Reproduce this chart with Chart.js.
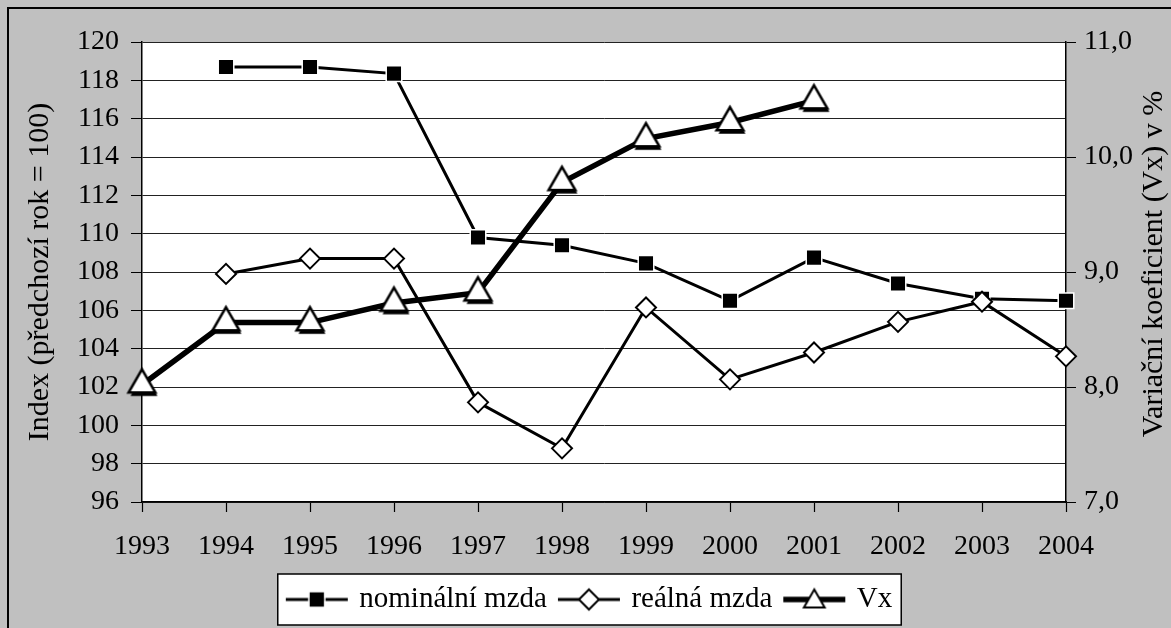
<!DOCTYPE html>
<html>
<head>
<meta charset="utf-8">
<script src="https://cdn.jsdelivr.net/npm/chart.js@4.4.1/dist/chart.umd.min.js"></script>
<style>
  html, body { margin: 0; padding: 0; background: #c0c0c0; overflow: hidden; }
  #frame {
    position: absolute; left: 7px; top: 7px; width: 1300px; height: 800px;
    border-left: 2px solid #000; border-top: 2px solid #000;
  }
  #wrap { position: absolute; left: 0; top: 0; width: 1171px; height: 628px; }
</style>
</head>
<body>
<div id="frame"></div>
<div id="wrap"><canvas id="chart" width="1171" height="628"></canvas></div>
<script>
// ---- data ----
const years = ['1993', '1994', '1995', '1996', '1997', '1998', '1999', '2000', '2001', '2002', '2003', '2004'];
const nominalWage = [null, 118.7, 118.7, 118.35, 109.8, 109.4, 108.45, 106.5, 108.75, 107.4, 106.6, 106.5];
const realWage = [null, 107.9, 108.7, 108.7, 101.2, 98.8, 106.15, 102.4, 103.8, 105.4, 106.45, 103.6];
const vxCoef = [8.02, 8.56, 8.56, 8.73, 8.82, 9.78, 10.16, 10.30, 10.49, null, null, null];

const seriesNames = ['nominální mzda', 'reálná mzda', 'Vx'];
const leftTitle = 'Index (předchozí rok = 100)';
const rightTitle = 'Variační koeficient (Vx) v %';

const FONT = '"Liberation Serif", "Times New Roman", serif';

/* ---- marker helpers ---- */
function trianglePath(ctx, cx, cy, r) {
  const h = Math.sin(Math.PI / 3) * r;
  ctx.beginPath();
  ctx.moveTo(cx, cy - r);
  ctx.lineTo(cx + h, cy + r / 2);
  ctx.lineTo(cx - h, cy + r / 2);
  ctx.closePath();
}

// triangle with the small black drop shadow seen in the picture
function makeTriangle(r, lw) {
  const c = document.createElement('canvas');
  const size = Math.ceil(r * 2 + 10);
  c.width = size; c.height = size;
  const ctx = c.getContext('2d');
  const cx = size / 2, cy = size / 2;
  trianglePath(ctx, cx + 2, cy + 3.5, r);
  ctx.fillStyle = '#000';
  ctx.fill();
  trianglePath(ctx, cx, cy, r);
  ctx.fillStyle = '#fff';
  ctx.fill();
  ctx.lineWidth = lw;
  ctx.strokeStyle = '#000';
  ctx.stroke();
  return c;
}

// legend glyph: short line with the marker in the middle
function makeLegendGlyph(kind) {
  const c = document.createElement('canvas');
  c.width = 64; c.height = 28;
  const ctx = c.getContext('2d');
  const cy = 14, cx = 32;
  ctx.strokeStyle = '#000';
  ctx.lineWidth = kind === 'vx' ? 5.5 : 3;
  ctx.beginPath();
  ctx.moveTo(1, cy); ctx.lineTo(63, cy);
  ctx.stroke();
  if (kind === 'nominal') {
    ctx.fillStyle = '#000';
    ctx.fillRect(cx - 7.5, cy - 7.5, 15, 15);
    ctx.strokeStyle = '#fff'; ctx.lineWidth = 1.5;
    ctx.strokeRect(cx - 8, cy - 8, 16, 16);
  } else if (kind === 'real') {
    ctx.beginPath();
    ctx.moveTo(cx - 10, cy); ctx.lineTo(cx, cy - 10); ctx.lineTo(cx + 10, cy); ctx.lineTo(cx, cy + 10);
    ctx.closePath();
    ctx.fillStyle = '#fff'; ctx.fill();
    ctx.strokeStyle = '#000'; ctx.lineWidth = 2; ctx.stroke();
  } else {
    trianglePath(ctx, cx, cy + 2, 12);
    ctx.fillStyle = '#fff'; ctx.fill();
    ctx.strokeStyle = '#000'; ctx.lineWidth = 2; ctx.stroke();
  }
  return c;
}

const triangleMarker = makeTriangle(15.5, 2.5);
const legendGlyphs = [makeLegendGlyph('nominal'), makeLegendGlyph('real'), makeLegendGlyph('vx')];

/* ---- plugins ---- */
const plotBackground = {
  id: 'plotBackground',
  beforeDraw(chart) {
    const {ctx, chartArea: a} = chart;
    ctx.save();
    ctx.fillStyle = '#fff';
    ctx.fillRect(a.left, a.top, a.right - a.left, a.bottom - a.top);
    // legend frame
    const boxes = chart.legend.legendHitBoxes;
    if (boxes && boxes.length) {
      const first = boxes[0], last = boxes[boxes.length - 1];
      const x0 = first.left - 11, x1 = last.left + last.width + 9;
      const y0 = first.top - 11, y1 = first.top + first.height + 11;
      ctx.fillRect(x0, y0, x1 - x0, y1 - y0);
      ctx.strokeStyle = '#000';
      ctx.lineWidth = 1.5;
      ctx.strokeRect(x0, y0, x1 - x0, y1 - y0);
    }
    ctx.restore();
  }
};

// right axis title reads bottom-to-top, like the left one
const rightAxisTitle = {
  id: 'rightAxisTitle',
  afterDraw(chart) {
    const {ctx} = chart;
    ctx.save();
    ctx.translate(1154, 264);
    ctx.rotate(-Math.PI / 2);
    ctx.font = '30px ' + FONT;
    ctx.fillStyle = '#000';
    ctx.textAlign = 'center';
    ctx.textBaseline = 'middle';
    ctx.fillText(rightTitle, 0, 0);
    ctx.restore();
  }
};

const tickFont = { family: FONT, size: 28 };

new Chart(document.getElementById('chart'), {
  type: 'line',
  data: {
    labels: years,
    datasets: [
      {
        label: seriesNames[0],
        data: nominalWage,
        yAxisID: 'y',
        order: 3,
        borderColor: '#000',
        borderWidth: 3,
        pointStyle: 'rect',
        pointRadius: 11,
        pointBackgroundColor: '#000',
        pointBorderColor: '#fff',
        pointBorderWidth: 1.5,
        tension: 0,
        clip: false
      },
      {
        label: seriesNames[1],
        data: realWage,
        yAxisID: 'y',
        order: 2,
        borderColor: '#000',
        borderWidth: 3,
        pointStyle: 'rectRot',
        pointRadius: 10,
        pointBackgroundColor: '#fff',
        pointBorderColor: '#000',
        pointBorderWidth: 2,
        tension: 0,
        clip: false
      },
      {
        label: seriesNames[2],
        data: vxCoef,
        yAxisID: 'y2',
        order: 1,
        borderColor: '#000',
        borderWidth: 5.5,
        pointStyle: triangleMarker,
        pointRadius: 16,
        tension: 0,
        clip: false
      }
    ]
  },
  options: {
    responsive: false,
    animation: false,
    devicePixelRatio: 1,
    layout: { padding: { top: 42, bottom: 4, left: 10, right: 0 } },
    plugins: {
      tooltip: { enabled: false },
      legend: {
        position: 'bottom',
        labels: {
          usePointStyle: true,
          pointStyleWidth: 56,
          padding: 14,
          color: '#000',
          font: { family: FONT, size: 29 },
          generateLabels: (chart) => chart.data.datasets.map((ds, i) => ({
            text: ds.label,
            pointStyle: legendGlyphs[i],
            fillStyle: '#000',
            strokeStyle: '#000',
            lineWidth: 0,
            hidden: false,
            datasetIndex: i
          }))
        }
      }
    },
    scales: {
      x: {
        offset: false,
        ticks: { font: tickFont, color: '#000', padding: 18, maxRotation: 0, autoSkip: false },
        grid: { drawOnChartArea: false, tickLength: 10, tickColor: '#000', tickWidth: 1.2 },
        border: { color: '#000', width: 1.5 },
        afterFit: (s) => { s.height = 69; }
      },
      y: {
        position: 'left',
        min: 96,
        max: 120,
        ticks: { stepSize: 2, font: tickFont, color: '#000', padding: 12 },
        grid: { color: '#222', lineWidth: 1, tickLength: 11, tickColor: '#000' },
        border: { color: '#000', width: 1.5 },
        title: {
          display: true,
          text: leftTitle,
          color: '#000',
          font: { family: FONT, size: 30 },
          padding: { top: 12, bottom: 0 }
        },
        afterFit: (s) => { s.width = 132; }
      },
      y2: {
        position: 'right',
        min: 7,
        max: 11,
        ticks: {
          stepSize: 1,
          font: tickFont,
          color: '#000',
          padding: 8,
          callback: (v) => v.toFixed(1).replace('.', ',')
        },
        grid: { drawOnChartArea: false, tickLength: 10, tickColor: '#000' },
        border: { color: '#000', width: 1.5 },
        afterFit: (s) => { s.width = 105; }
      }
    }
  },
  plugins: [plotBackground, rightAxisTitle]
});
</script>
</body>
</html>
